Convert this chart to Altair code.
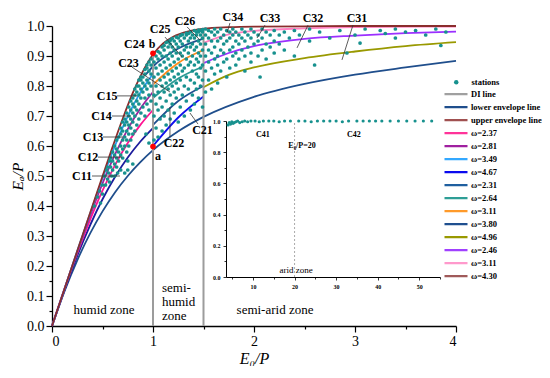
import altair as alt
import pandas as pd

SERIF = "Liberation Serif"
TEAL = "#17918e"

# ---------------- curves ----------------
upper_phi = [0, 0.3, 0.5, 0.6, 0.7, 0.8, 0.9, 1.0, 1.1, 1.2, 1.35, 1.5, 1.75, 2.0, 2.5, 3.0, 4.0]
upper_ea = [0, 0.3, 0.499, 0.597, 0.691, 0.777, 0.849, 0.905, 0.942, 0.964, 0.982, 0.991, 0.996, 0.998, 0.999, 1.0, 1.0]

lower_phi = [0, 0.125, 0.25, 0.5, 0.625, 0.75, 0.875, 1.0, 1.25, 1.5, 2.0, 2.5, 3.0, 3.5, 4.0]
lower_ea = [0, 0.117, 0.219, 0.382, 0.446, 0.5, 0.546, 0.586, 0.649, 0.697, 0.764, 0.807, 0.838, 0.862, 0.884]

humid_phi = [0, 0.25, 0.5, 0.625, 0.75, 0.875, 1.0]
h1_ea = [0, 0.234, 0.4225, 0.4977, 0.5615, 0.615, 0.66]
h2_ea = [0, 0.2428, 0.4514, 0.5372, 0.6099, 0.6704, 0.7202]
h3_ea = [0, 0.2477, 0.4753, 0.5729, 0.6564, 0.7252, 0.7803]
h4_ea = [0, 0.2499, 0.4917, 0.6021, 0.6991, 0.7788, 0.84]

semih_phi = [1.0, 1.25, 1.5]
s1_ea = [0.60, 0.695, 0.765]
s2_ea = [0.67, 0.75, 0.80]
s3_ea = [0.76, 0.825, 0.865]
s4_ea = [0.805, 0.877, 0.92]
s5_phi = [0.92, 1.0, 1.25, 1.5]
s5_ea = [0.835, 0.865, 0.925, 0.958]

olive_phi = [1.5, 1.75, 2.0, 2.5, 3.0, 3.5, 4.0]
olive_ea = [0.796, 0.837, 0.862, 0.893, 0.915, 0.933, 0.946]
violet_phi = [1.5, 1.75, 2.0, 2.25, 2.5, 3.0, 3.5, 4.0]
violet_ea = [0.876, 0.91, 0.933, 0.947, 0.957, 0.968, 0.976, 0.981]
lpink_phi = [1.5, 1.75, 2.0, 2.5, 3.0, 4.0]
lpink_ea = [0.944, 0.972, 0.984, 0.992, 0.996, 0.998]

curve_list = [
    ("lower", "#1f4e8c", lower_phi, lower_ea),
    ("h1", "#1c1c9c", humid_phi, h1_ea),
    ("h2", "#ff1493", humid_phi, h2_ea),
    ("h3", "#a020a0", humid_phi, h3_ea),
    ("h4", "#2a9df4", humid_phi, h4_ea),
    ("s1", "#1010ee", semih_phi, s1_ea),
    ("s2", "#1f4f8f", semih_phi, s2_ea),
    ("s3", "#2a9a94", semih_phi, s3_ea),
    ("s4", "#ff8c1a", semih_phi, s4_ea),
    ("s5", "#1f4f8f", s5_phi, s5_ea),
    ("a1", "#999900", olive_phi, olive_ea),
    ("a2", "#9b30ff", violet_phi, violet_ea),
    ("a3", "#ff80c0", lpink_phi, lpink_ea),
    ("upper", "#8b2d2d", upper_phi, upper_ea),
]

# ---------------- stations ----------------
humid_cols = [0.42, 0.45, 0.47, 0.48, 0.50, 0.52, 0.53, 0.54, 0.55, 0.56, 0.57, 0.58, 0.59, 0.60,
              0.62, 0.64, 0.65, 0.66, 0.68, 0.70, 0.72, 0.74, 0.75, 0.76, 0.78, 0.80, 0.82, 0.84,
              0.86, 0.88, 0.90, 0.92, 0.93, 0.94, 0.96, 0.98]
humid_vals = [[0.40], [0.43], [0.45], [0.41], [0.44, 0.47], [0.50], [0.47], [0.52], [0.49, 0.53], [0.51],
              [0.48, 0.55], [0.53, 0.56], [0.50], [0.52, 0.55, 0.58],
              [0.50, 0.54, 0.57, 0.60], [0.53, 0.56, 0.59, 0.62], [0.51], [0.55, 0.58, 0.63],
              [0.52, 0.57, 0.60, 0.64, 0.66], [0.56, 0.59, 0.62, 0.65, 0.68], [0.51, 0.60, 0.63, 0.67, 0.69],
              [0.58, 0.62, 0.65, 0.68, 0.71], [0.52, 0.55], [0.60, 0.64, 0.67, 0.70, 0.73],
              [0.62, 0.66, 0.69, 0.72, 0.75], [0.54, 0.64, 0.68, 0.71, 0.74, 0.76],
              [0.65, 0.70, 0.73, 0.77, 0.79], [0.67, 0.72, 0.75, 0.78, 0.80],
              [0.69, 0.74, 0.77, 0.80, 0.82], [0.71, 0.76, 0.79, 0.82, 0.83], [0.73, 0.78, 0.81, 0.83],
              [0.70, 0.76, 0.80, 0.84, 0.855], [0.64], [0.74, 0.79, 0.82, 0.86, 0.87],
              [0.61, 0.72, 0.77, 0.81, 0.85, 0.88], [0.75, 0.80, 0.84, 0.87, 0.89]]

semih_cols = [1.01, 1.03, 1.05, 1.07, 1.09, 1.11, 1.13, 1.15, 1.17, 1.19, 1.21, 1.23, 1.25, 1.27,
              1.29, 1.31, 1.33, 1.35, 1.37, 1.39, 1.41, 1.43, 1.45, 1.47, 1.49]
semih_vals = [[0.62, 0.70, 0.77, 0.83, 0.88], [0.66, 0.74, 0.80, 0.86, 0.90],
              [0.63, 0.72, 0.78, 0.84, 0.89, 0.915], [0.69, 0.76, 0.82, 0.87, 0.91],
              [0.65, 0.73, 0.80, 0.85, 0.90, 0.93], [0.70, 0.78, 0.83, 0.88, 0.92, 0.935],
              [0.67, 0.75, 0.81, 0.86, 0.90, 0.945], [0.72, 0.79, 0.84, 0.89, 0.93, 0.948],
              [0.69, 0.77, 0.82, 0.87, 0.91, 0.94, 0.952], [0.74, 0.80, 0.85, 0.90, 0.93, 0.958],
              [0.71, 0.78, 0.83, 0.88, 0.92, 0.95], [0.76, 0.81, 0.86, 0.91, 0.94, 0.963],
              [0.68, 0.79, 0.84, 0.89, 0.93, 0.96], [0.73, 0.82, 0.87, 0.91, 0.95, 0.968],
              [0.77, 0.85, 0.90, 0.94, 0.971], [0.70, 0.80, 0.86, 0.92, 0.96],
              [0.75, 0.83, 0.89, 0.93, 0.97, 0.976], [0.79, 0.87, 0.91, 0.95, 0.975],
              [0.72, 0.82, 0.88, 0.93, 0.96, 0.98], [0.77, 0.85, 0.90, 0.94, 0.97],
              [0.74, 0.81, 0.87, 0.92, 0.96, 0.985], [0.79, 0.84, 0.89, 0.93, 0.97, 0.98],
              [0.76, 0.83, 0.88, 0.91, 0.95, 0.98, 0.986], [0.80, 0.86, 0.90, 0.94, 0.97, 0.985],
              [0.73, 0.82, 0.87, 0.92, 0.96, 0.98, 0.988]]

semia_cols = [1.52, 1.55, 1.58, 1.61, 1.64, 1.67, 1.70, 1.73, 1.76, 1.79, 1.82, 1.85, 1.88, 1.91,
              1.94, 1.97, 2.00, 2.04, 2.06, 2.08, 2.12, 2.16, 2.20, 2.25, 2.30, 2.35, 2.40, 2.45,
              2.55, 2.60, 2.65, 2.75, 2.85, 2.92, 3.00, 3.05, 3.10, 3.25, 3.30, 3.40, 3.50, 3.60,
              3.70, 3.80, 3.85, 3.90]
semia_vals = [[0.78, 0.85, 0.90, 0.94, 0.97, 0.99], [0.82, 0.88, 0.92, 0.96, 0.985],
              [0.79, 0.86, 0.91, 0.95, 0.98], [0.84, 0.89, 0.93, 0.97, 0.99],
              [0.81, 0.87, 0.90, 0.95, 0.98], [0.85, 0.92, 0.96, 0.99], [0.88, 0.91, 0.94, 0.97],
              [0.83, 0.89, 0.95, 0.985], [0.86, 0.92, 0.96, 0.98], [0.90, 0.93, 0.97, 0.99],
              [0.87, 0.91, 0.95, 0.98], [0.89, 0.94, 0.97], [0.92, 0.96, 0.99],
              [0.85, 0.90, 0.95, 0.98], [0.93, 0.97], [0.88, 0.91, 0.96, 0.99], [0.94, 0.98],
              [0.90, 0.95, 0.97], [0.83], [0.92, 0.96, 0.99], [0.89, 0.94, 0.98], [0.93, 0.97],
              [0.91, 0.95, 0.985], [0.94, 0.97], [0.92, 0.98], [0.96], [0.90, 0.985], [0.97],
              [0.95, 0.99], [0.87], [0.98], [0.96], [0.985], [0.91], [0.97], [0.943], [0.99],
              [0.985], [0.975], [0.96, 0.99], [0.98], [0.985], [0.97], [0.99], [0.935], [0.98]]

arid_x = [4.0, 4.3, 4.6, 4.9, 5.2, 5.5, 5.9, 6.3, 6.8, 7.4, 8.0, 8.7, 9.5, 10.5, 11.5, 12.5, 13.8,
          15.0, 16.3, 17.6, 19.0, 21.0, 22.5, 24.0, 25.5, 27.0, 28.5, 30.0, 31.5, 33.0, 35.0, 36.5,
          38.0, 39.5, 41.0, 43.0, 45.0, 47.0, 49.0, 51.0, 53.0]
arid_y = [0.975, 0.99, 0.98, 0.995, 0.985, 0.99, 0.995, 1.0, 0.99, 0.995, 1.0, 0.995, 1.0, 1.0,
          0.995, 1.0, 1.0, 1.0, 0.995, 1.0, 1.0, 1.0, 1.0, 0.995, 1.0, 1.0, 1.0, 1.0, 0.995, 1.0,
          1.0, 1.0, 1.0, 1.0, 1.0, 1.0, 1.0, 1.0, 1.0, 1.0, 1.0]

# ---------------- annotations ----------------
di_phi = [1.0, 1.5]
di_top = [0.905, 0.991]
marked_phi = [1.0, 1.0]
marked_ea = [0.598, 0.909]

lab_text = ["C11", "C12", "C13", "C14", "C15", "C23", "C24", "b", "C25", "C26",
            "C34", "C33", "C32", "C31", "C22", "C21", "a"]
lab_phi = [0.297, 0.356, 0.406, 0.49, 0.545, 0.757, 0.815, 0.99, 1.07, 1.317,
           1.79, 2.158, 2.584, 3.02, 1.208, 1.49, 1.05]
lab_ea = [0.50, 0.563, 0.63, 0.70, 0.767, 0.877, 0.94, 0.94, 0.99, 1.017,
          1.03, 1.027, 1.027, 1.027, 0.61, 0.653, 0.567]

ptr_x1 = [0.396, 0.455, 0.505, 0.594, 0.644, 0.792, 1.119, 1.337, 1.762, 2.109, 2.535, 2.98, 1.168, 1.446]
ptr_y1 = [0.50, 0.563, 0.63, 0.70, 0.767, 0.863, 0.963, 0.997, 1.01, 1.003, 1.003, 1.003, 0.63, 0.673]
ptr_x2 = [0.673, 0.693, 0.703, 0.782, 0.842, 1.168, 1.287, 1.465, 1.733, 2.03, 2.426, 2.871, 1.168, 1.366]
ptr_y2 = [0.50, 0.563, 0.63, 0.70, 0.767, 0.78, 0.897, 0.953, 0.977, 0.96, 0.927, 0.887, 0.73, 0.71]

zone_text = ["humid zone", "semi-", "humid", "zone", "semi-arid zone"]
zone_phi = [0.515, 1.089, 1.089, 1.089, 2.208]
zone_ea = [0.053, 0.127, 0.08, 0.033, 0.053]
zone_align = ["center", "left", "left", "left", "center"]

inset_text = ["C41", "C42", "E\u2080/P=20", "arid zone"]
inset_tx = [12.4, 34.3, 21.8, 20.4]
inset_ty = [0.91, 0.91, 0.84, 0.045]

leg_keys = ["DI line", "lower envelope line", "upper envelope line", "\u03c9=2.37", "\u03c9=2.81",
            "\u03c9=3.49", "\u03c9=4.67", "\u03c9=2.31", "\u03c9=2.64", "\u03c9=3.11", "\u03c9=3.80",
            "\u03c9=4.96", "\u03c9=2.46", "\u03c9=3.11 ", "\u03c9=4.30"]
leg_colors = ["#a0a0a0", "#1f4e8c", "#a05050", "#ff3399", "#a020a0", "#33a8ff", "#0a0aee",
              "#1f5f9f", "#2e9e96", "#ff9a2a", "#1f4f8f", "#999900", "#a040ff", "#ff99cc", "#a05a5a"]

# ---------------- tables ----------------
rows = []
for name, col, ph, ea in curve_list:
    for p, e in zip(ph, ea):
        rows.append({"seg": name, "phi": p, "ea": e})
curve_df = pd.DataFrame(rows)
seg_names = [c[0] for c in curve_list]
seg_colors = [c[1] for c in curve_list]

st_rows = []
for cols, vals in [(humid_cols, humid_vals), (semih_cols, semih_vals), (semia_cols, semia_vals)]:
    for p, vs in zip(cols, vals):
        for v in vs:
            st_rows.append({"phi": p, "ea": v, "lab": "stations"})
st_df = pd.DataFrame(st_rows)

# ---------------- scales & axes ----------------
xs = alt.Scale(domain=[0, 4], nice=False, zero=False)
ys = alt.Scale(domain=[0, 1], nice=False, zero=False)

xax = alt.Axis(
    values=[i * 0.5 for i in range(9)],
    labelExpr="datum.value % 1 == 0 ? format(datum.value, 'd') : ''",
    tickSize={"condition": {"test": "datum.value % 1 == 0", "value": 6}, "value": 3},
    title="E\u2080/P", grid=False, domainColor="black", tickColor="black", domainWidth=1.3,
    tickWidth=1.2, labelFont=SERIF, labelFontSize=14, labelColor="black", labelPadding=2,
    titleFont=SERIF, titleFontSize=16, titleFontStyle="italic", titleFontWeight="normal",
    titleColor="black", titlePadding=2)
yax = alt.Axis(
    values=[round(i * 0.05, 2) for i in range(21)],
    labelExpr="round(datum.value * 100) % 10 == 0 ? format(datum.value, '.1f') : ''",
    tickSize={"condition": {"test": "round(datum.value * 100) % 10 == 0", "value": 6}, "value": 3},
    title="E\u2090/P", grid=False, domainColor="black", tickColor="black", domainWidth=1.3,
    tickWidth=1.2, labelFont=SERIF, labelFontSize=14, labelColor="black", labelPadding=2,
    titleFont=SERIF, titleFontSize=15.5, titleFontStyle="italic", titleFontWeight="normal",
    titleColor="black", titlePadding=1)


def X(f):
    return alt.X(f, type="quantitative", scale=xs, axis=xax)


def Y(f):
    return alt.Y(f, type="quantitative", scale=ys, axis=yax)


ixs = alt.Scale(domain=[3.5, 55], range=[174, 388], nice=False, zero=False)
iys = alt.Scale(domain=[0, 1], range=[251, 95], nice=False, zero=False)
ixax = alt.Axis(
    orient="bottom", offset=-49, values=[5 * i for i in range(1, 12)],
    labelExpr="datum.value % 10 == 0 ? format(datum.value, 'd') : ''",
    tickSize={"condition": {"test": "datum.value % 10 == 0", "value": 3}, "value": 2},
    title=None, grid=False, domainColor="black", tickColor="black", domainWidth=1, tickWidth=0.8,
    labelFont=SERIF, labelFontSize=6, labelFontWeight="bold", labelColor="black", labelPadding=3)
iyax = alt.Axis(
    orient="left", offset=-174, values=[round(i * 0.1, 1) for i in range(11)],
    labelExpr="round(datum.value * 10) % 2 == 0 ? format(datum.value, '.1f') : ''",
    tickSize={"condition": {"test": "round(datum.value * 10) % 2 == 0", "value": 3}, "value": 2},
    title=None, grid=False, domainColor="black", tickColor="black", domainWidth=1, tickWidth=0.8,
    labelFont=SERIF, labelFontSize=6, labelFontWeight="bold", labelColor="black", labelPadding=3)


def IX(f):
    return alt.X(f, type="quantitative", scale=ixs, axis=ixax)


def IY(f):
    return alt.Y(f, type="quantitative", scale=iys, axis=iyax)


# ---------------- main layers ----------------
curves = alt.Chart(curve_df).mark_line(strokeWidth=1.8, interpolate="monotone").encode(
    x=X("phi"), y=Y("ea"),
    color=alt.Color("seg:N", scale=alt.Scale(domain=seg_names, range=seg_colors), legend=None))

di = alt.Chart(pd.DataFrame({"phi": di_phi, "y0": [0, 0], "y1": di_top})).mark_rule(
    color="#9c9c9c", strokeWidth=2).encode(x=X("phi"), y=Y("y0"), y2="y1")

stations = alt.Chart(st_df).mark_circle(size=14, opacity=1).encode(
    x=X("phi"), y=Y("ea"),
    fill=alt.Fill("lab:N", scale=alt.Scale(domain=["stations"], range=[TEAL]),
                  legend=alt.Legend(title=None, orient="none", legendX=400, legendY=50,
                                    symbolSize=20, symbolType="circle", symbolStrokeWidth=0,
                                    clipHeight=12.4, labelOffset=11, padding=0,
                                    labelFont=SERIF, labelFontSize=8.5, labelFontWeight="bold",
                                    labelColor="black")))

leg = alt.Chart(pd.DataFrame({"key": leg_keys, "x": 0.0, "y": 0.0})).mark_rule(strokeWidth=2).encode(
    x=X("x"), y=Y("y"), x2="x", y2="y",
    stroke=alt.Stroke("key:N", scale=alt.Scale(domain=leg_keys, range=leg_colors),
                      legend=alt.Legend(title=None, orient="none", legendX=391, legendY=62,
                                        symbolType="stroke", symbolSize=529, symbolStrokeWidth=2.2,
                                        clipHeight=12.4, rowPadding=0, labelOffset=2, padding=0,
                                        labelFont=SERIF, labelFontSize=8.5, labelFontWeight="bold",
                                        labelColor="black", labelLimit=200)))

pointers = alt.Chart(pd.DataFrame({"x1": ptr_x1, "y1": ptr_y1, "x2": ptr_x2, "y2": ptr_y2})).mark_rule(
    color="#333333", strokeWidth=0.8).encode(x=X("x1"), y=Y("y1"), x2="x2", y2="y2")

red = alt.Chart(pd.DataFrame({"phi": marked_phi, "ea": marked_ea})).mark_circle(
    color="#ff0000", size=32, opacity=1).encode(x=X("phi"), y=Y("ea"))

labels = alt.Chart(pd.DataFrame({"t": lab_text, "phi": lab_phi, "ea": lab_ea})).mark_text(
    font=SERIF, fontWeight="bold", fontSize=12, color="black").encode(
    x=X("phi"), y=Y("ea"), text="t:N")

zone_df = pd.DataFrame({"t": zone_text, "phi": zone_phi, "ea": zone_ea, "al": zone_align})
zones_c = alt.Chart(zone_df[zone_df.al == "center"]).mark_text(
    font=SERIF, fontSize=13, color="black", align="center").encode(x=X("phi"), y=Y("ea"), text="t:N")
zones_l = alt.Chart(zone_df[zone_df.al == "left"]).mark_text(
    font=SERIF, fontSize=13, color="black", align="left").encode(x=X("phi"), y=Y("ea"), text="t:N")

main = alt.layer(curves, di, stations, leg, pointers, red, labels, zones_c, zones_l)

# ---------------- inset ----------------
i_st = alt.Chart(pd.DataFrame({"ix": arid_x, "iy": arid_y})).mark_circle(
    color=TEAL, size=10, opacity=1).encode(x=IX("ix"), y=IY("iy"))
i_rule = alt.Chart(pd.DataFrame({"ix": [20.0], "y0": [0.0], "y1": [1.0]})).mark_rule(
    color="#aaaaaa", strokeDash=[2, 2], strokeWidth=1).encode(x=IX("ix"), y=IY("y0"), y2="y1")
itd = pd.DataFrame({"t": inset_text, "ix": inset_tx, "iy": inset_ty})
i_txt_b = alt.Chart(itd.iloc[:3]).mark_text(font=SERIF, fontSize=8, fontWeight="bold",
                                             color="black").encode(x=IX("ix"), y=IY("iy"), text="t:N")
i_txt = alt.Chart(itd.iloc[3:]).mark_text(font=SERIF, fontSize=9, color="black").encode(
    x=IX("ix"), y=IY("iy"), text="t:N")
inset = alt.layer(i_rule, i_st, i_txt_b, i_txt)

chart = alt.layer(main, inset).resolve_scale(x="independent", y="independent").properties(
    width=404, height=300,
    autosize=alt.AutoSizeParams(type="none"),
    padding={"left": 44, "top": 18, "right": 86, "bottom": 40},
).configure_view(stroke=None)

chart.save("out.html", embed_options={"renderer": "svg", "actions": False})
